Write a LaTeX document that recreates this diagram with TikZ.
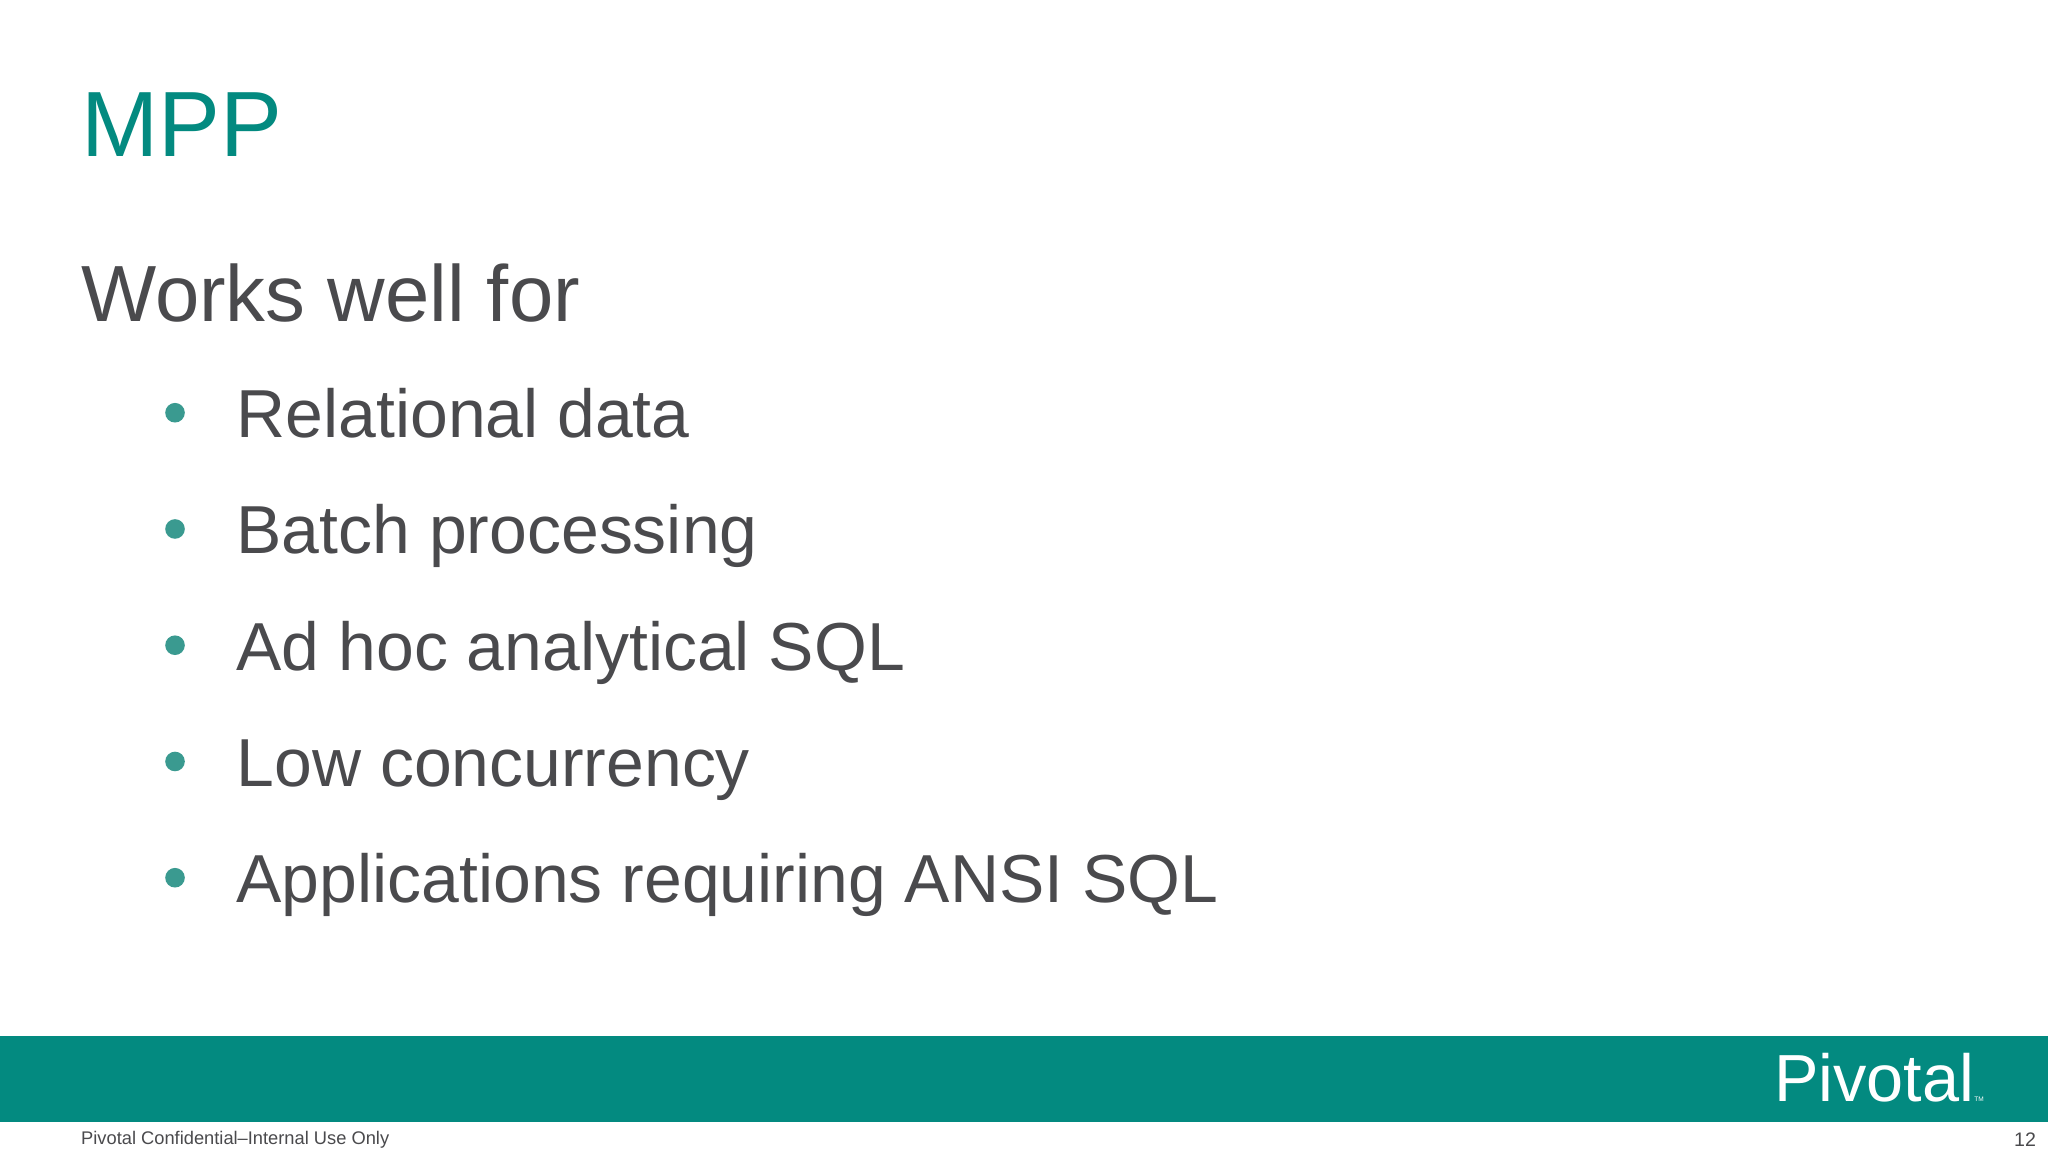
\documentclass[tikz,border=0pt]{standalone}
\usepackage{fontspec}
\setmainfont{Liberation Sans}
\definecolor{teal1}{HTML}{038A80}
\definecolor{txt}{HTML}{4A4A4D}
\definecolor{bul}{HTML}{3A9A90}
\begin{document}
\begin{tikzpicture}[x=1pt,y=-1pt,
  bitem/.style={anchor=base west,text=txt,font=\fontsize{52}{60}\selectfont,inner sep=0pt},
  bdot/.style={circle,fill=bul,minimum size=15,inner sep=0pt}]
\useasboundingbox[fill=white] (0,0) rectangle (1568,882);
\fill[teal1] (0,793) rectangle (1568,859);
\node[anchor=base west,inner sep=0pt,text=teal1,font=\fontsize{71}{80}\selectfont] (title) at (62,120) {MPP};
\node[anchor=base west,inner sep=0pt,text=txt,font=\fontsize{61}{70}\selectfont] (sub) at (62,246) {Works well for};
\foreach \t [count=\i] in {Relational data,Batch processing,Ad hoc analytical SQL,Low concurrency,Applications requiring ANSI SQL}{
  \node[bdot] (d\i) at (134,{316+(\i-1)*89-0}) {};
  \node[bitem] (b\i) at (181,{335+(\i-1)*89}) {\t};
}
\node[anchor=base west,inner sep=0pt,text=white,font=\fontsize{51}{50}\selectfont] (logo) at (1358,843) {Pivotal};
\node[anchor=base west,inner sep=0pt,text=white,font=\fontsize{5}{6}\selectfont] (tm) at (logo.base east) {TM};
\node[anchor=base west,inner sep=0pt,text=txt,font=\fontsize{14}{15}\selectfont] (foot) at (62,876) {Pivotal Confidential–Internal Use Only};
\node[anchor=base east,inner sep=0pt,text=txt,font=\fontsize{15}{17}\selectfont] (pg) at (1559,878) {12};
\end{tikzpicture}
\end{document}
